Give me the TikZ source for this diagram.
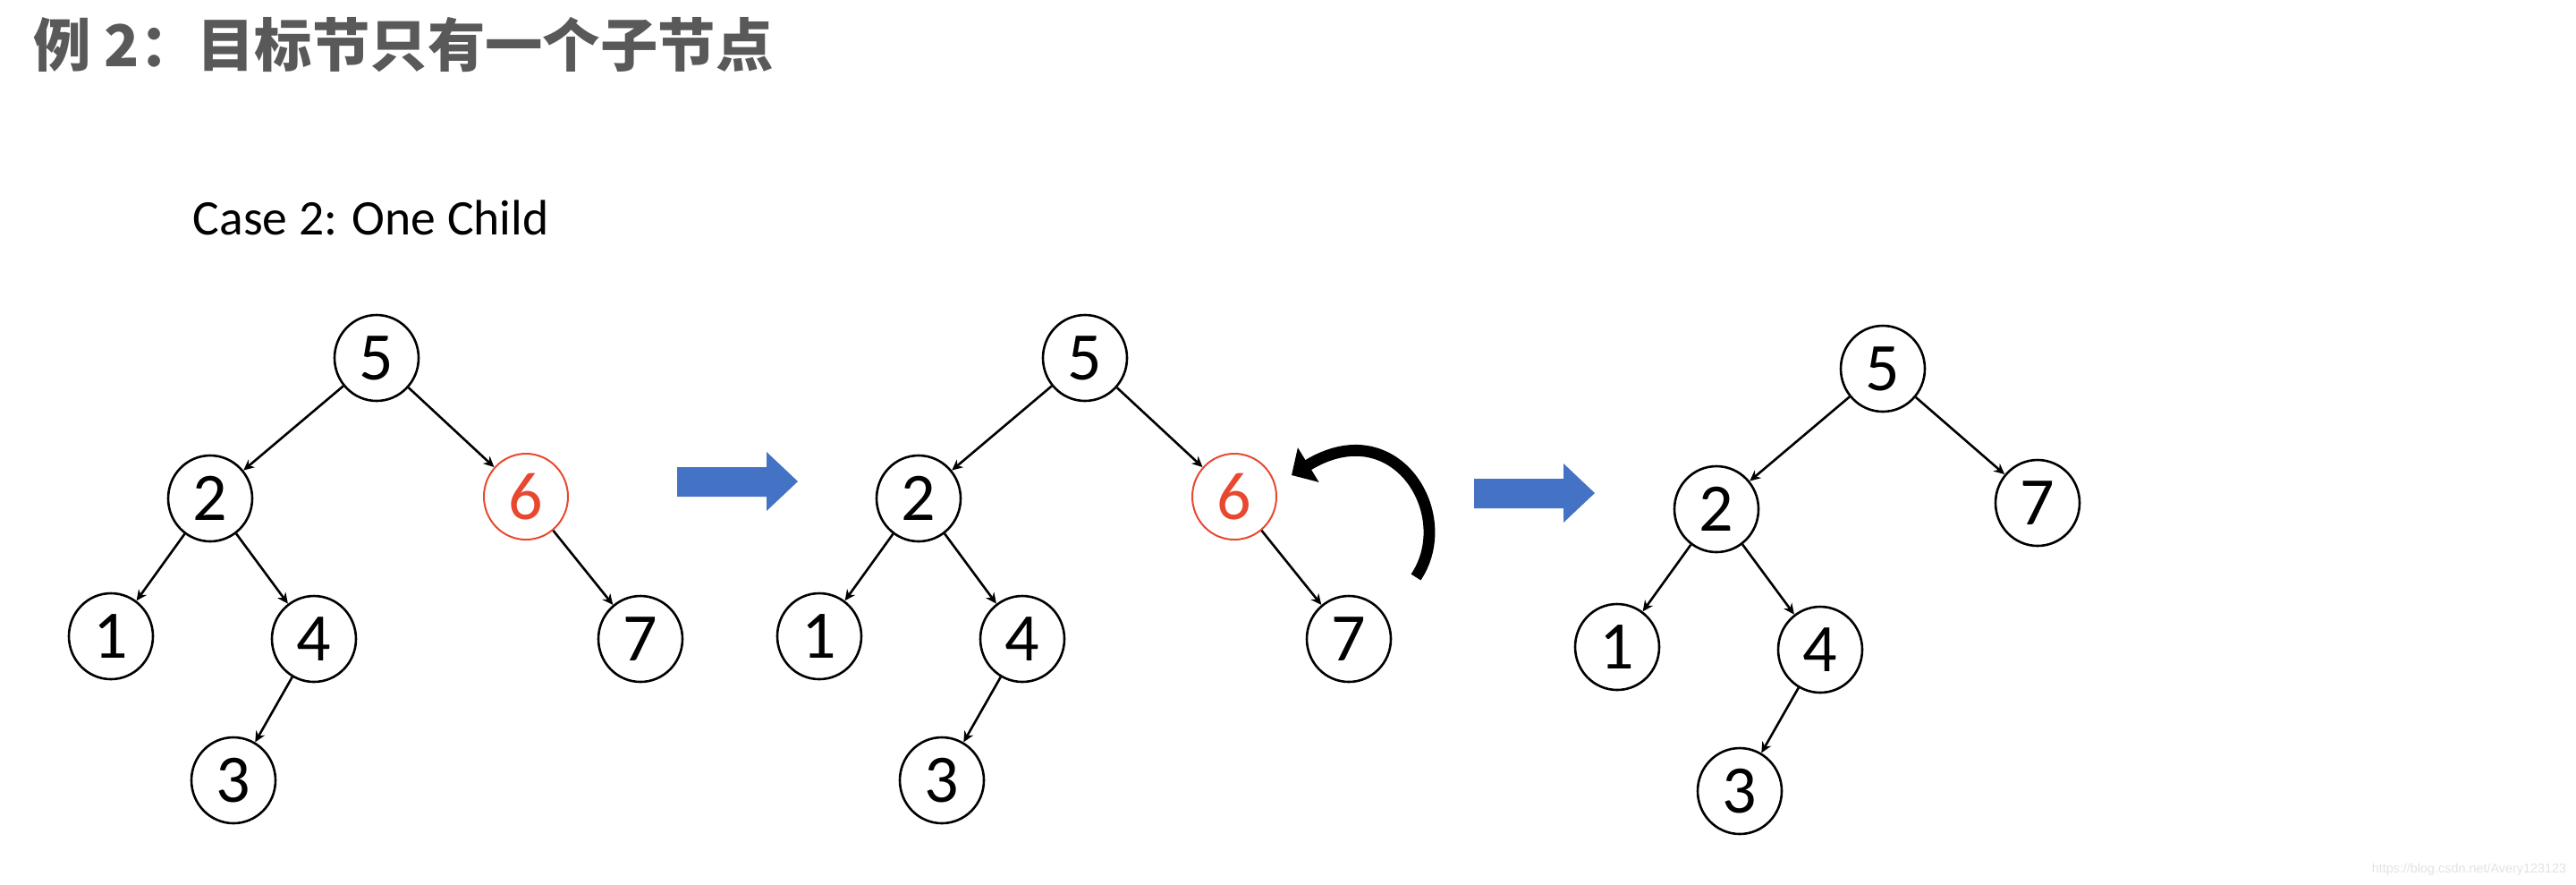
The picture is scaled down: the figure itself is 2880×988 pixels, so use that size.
\documentclass[tikz,border=0pt]{standalone}
\usepackage{fontspec}
\setmainfont{Carlito}
\newfontfamily\cjk{Noto Sans CJK SC}
\newfontfamily\wmfont{Liberation Sans}
\usetikzlibrary{arrows.meta,shapes.geometric}
\definecolor{titlegray}{RGB}{89,89,89}
\definecolor{delred}{RGB}{232,72,48}
\definecolor{arrowblue}{RGB}{68,114,196}
\definecolor{wmgray}{RGB}{226,226,226}
\begin{document}
\begin{tikzpicture}[x=0.25pt,y=-0.25pt,
  tnode/.style={ellipse, draw, line width=0.65pt, minimum width=23.5pt, minimum height=24pt, inner sep=0pt, font=\fontsize{19}{19}\selectfont},
  rnode/.style={tnode, draw=delred, text=delred, line width=0.5pt},
  edge/.style={line width=0.65pt, -{Stealth[length=3pt,width=2.8pt]}},
  bigarrow/.style={fill=arrowblue},
]
\useasboundingbox (0,0) rectangle (2880,988);
\node[anchor=west, inner sep=0pt, text=titlegray, font=\cjk\bfseries\fontsize{16.1}{16.1}\selectfont] (title) at (37,50) {例 2：目标节只有一个子节点};
\node[anchor=base west, inner sep=0pt, font=\fontsize{13.9}{13.9}\selectfont] (case) at (215,262) {Case 2: One Child};

% tree 1
\node[tnode] (a5) at (421,400) {5};
\node[tnode] (a2) at (235,557) {2};
\node[rnode] (a6) at (588,555) {6};
\node[tnode] (a1) at (124,711) {1};
\node[tnode] (a4) at (351,714) {4};
\node[tnode] (a7) at (716,714) {7};
\node[tnode] (a3) at (261,872) {3};
\draw[edge] (a5) -- (a2);
\draw[edge] (a5) -- (a6);
\draw[edge] (a2) -- (a1);
\draw[edge] (a2) -- (a4);
\draw[edge] (a6) -- (a7);
\draw[edge] (a4) -- (a3);

% tree 2
\node[tnode] (b5) at (1213,400) {5};
\node[tnode] (b2) at (1027,557) {2};
\node[rnode] (b6) at (1380,555) {6};
\node[tnode] (b1) at (916,711) {1};
\node[tnode] (b4) at (1143,714) {4};
\node[tnode] (b7) at (1508,714) {7};
\node[tnode] (b3) at (1053,872) {3};
\draw[edge] (b5) -- (b2);
\draw[edge] (b5) -- (b6);
\draw[edge] (b2) -- (b1);
\draw[edge] (b2) -- (b4);
\draw[edge] (b6) -- (b7);
\draw[edge] (b4) -- (b3);

% tree 3
\node[tnode] (c5) at (2105,412) {5};
\node[tnode] (c2) at (1919,569) {2};
\node[tnode] (c7) at (2278,562) {7};
\node[tnode] (c1) at (1808,723) {1};
\node[tnode] (c4) at (2035,726) {4};
\node[tnode] (c3) at (1945,884) {3};
\draw[edge] (c5) -- (c2);
\draw[edge] (c5) -- (c7);
\draw[edge] (c2) -- (c1);
\draw[edge] (c2) -- (c4);
\draw[edge] (c4) -- (c3);

% blue arrows
\fill[bigarrow] (757,522) -- (857,522) -- (857,505) -- (892,538) -- (857,571) -- (857,555) -- (757,555) -- cycle;
\fill[bigarrow] (1648,535) -- (1748,535) -- (1748,518) -- (1783,551) -- (1748,584) -- (1748,568) -- (1648,568) -- cycle;

% curved arrow
\draw[line width=3.2pt, -{Triangle[length=5.5pt,width=11pt]}] (1583,645) .. controls (1630,575) and (1560,460) .. (1444,531);

\node[anchor=base east, inner sep=0pt, text=wmgray, font=\wmfont\fontsize{3.6}{3.6}\selectfont] (wm) at (2870,975) {https://blog.csdn.net/Avery123123};
\end{tikzpicture}
\end{document}
